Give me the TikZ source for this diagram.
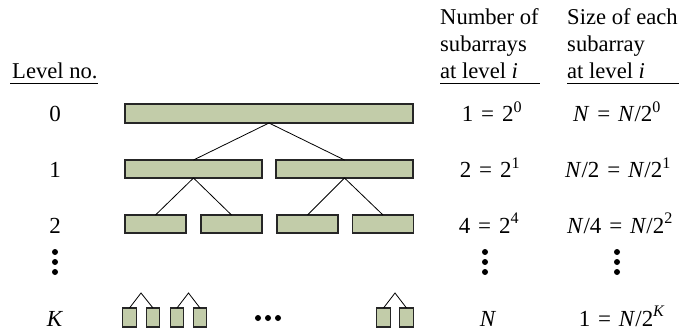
\documentclass[tikz,border=0pt]{standalone}
\usepackage{fontspec}
\setmainfont{Liberation Serif}
\definecolor{barfill}{RGB}{194,204,169}
\newcommand\eqs{\hspace{0.34em}=\hspace{0.34em}}
\begin{document}
\begin{tikzpicture}[
    x=1pt, y=-1pt,
    font=\fontsize{23}{27}\selectfont,
    bar/.style={draw=black!85, fill=barfill, line width=1.1pt,
                inner sep=0pt, outer sep=0pt, minimum height=19},
    leaf/.style={bar, minimum width=13.5},
    link/.style={line width=0.8pt},
    lab/.style={anchor=base, inner sep=0pt},
    head/.style={anchor=base west, align=left, inner sep=0pt,
                 font=\fontsize{22.6}{27}\selectfont},
    vdot/.style={fill=black}
  ]
  \useasboundingbox (0,0) rectangle (679,331);

  % Column headings.
  \node[head] (hlev) at (12,79)  {Level no.};
  \node[head] (hnum) at (440,79) {Number of\\subarrays\\at level \textit{i}};
  \node[head] (hsiz) at (567,79) {Size of each\\subarray\\at level \textit{i}};
  \draw[line width=0.8pt] (10,83) -- (98,83);
  \draw[line width=0.8pt] (440,83) -- (540,83);
  \draw[line width=0.8pt] (567,83) -- (679,83);

  % Level 0 and 1.
  \node[bar, minimum width=288] (a0) at (269,113.5) {};
  \node[bar, minimum width=137, minimum height=18] (a1) at (193.5,169) {};
  \node[bar, minimum width=137, minimum height=18] (a2) at (344.5,169) {};

  % Level 2.
  \node[bar, minimum width=61, minimum height=18] (c1) at (155.5,224) {};
  \node[bar, minimum width=61, minimum height=18] (c2) at (231.5,224) {};
  \node[bar, minimum width=61, minimum height=18] (c3) at (307.5,224) {};
  \node[bar, minimum width=61, minimum height=18] (c4) at (383,224) {};

  \draw[link] (a0.south) -- (a1.north);
  \draw[link] (a0.south) -- (a2.north);
  \draw[link] (a1.south) -- (c1.north);
  \draw[link] (a1.south) -- (c2.north);
  \draw[link] (a2.south) -- (c3.north);
  \draw[link] (a2.south) -- (c4.north);

  % Level K, single elements.
  \node[leaf] (k1) at (129.5,317.5) {};
  \node[leaf] (k2) at (153,317.5) {};
  \node[leaf] (k3) at (177,317.5) {};
  \node[leaf] (k4) at (200,317.5) {};
  \node[leaf] (k5) at (383.5,317.5) {};
  \node[leaf] (k6) at (406.5,317.5) {};
  \coordinate (p1) at (141,293);
  \coordinate (p2) at (188.5,293);
  \coordinate (p3) at (395,293);
  \draw[link] (k1.north) -- (p1) -- (k2.north);
  \draw[link] (k3.north) -- (p2) -- (k4.north);
  \draw[link] (k5.north) -- (p3) -- (k6.north);
  \foreach \x in {258,268,278}
    \fill[vdot] (\x,318) circle (3);

  % Row labels.
  \node[lab] (l0) at (55,122) {0};
  \node[lab] (l1) at (55,178) {1};
  \node[lab] (l2) at (55,233) {2};
  \node[lab] (lk) at (55,326) {\textit{K}};

  \node[lab] (n0) at (492,122) {1\eqs2\textsuperscript{0}};
  \node[lab] (n1) at (490,178) {2\eqs2\textsuperscript{1}};
  \node[lab] (n2) at (489,233) {4\eqs2\textsuperscript{4}};
  \node[lab] (nk) at (488,326) {\textit{N}};

  \node[lab] (s0) at (617,122) {\textit{N}\eqs\textit{N}/2\textsuperscript{0}};
  \node[lab] (s1) at (618,178) {\textit{N}/2\eqs\textit{N}/2\textsuperscript{1}};
  \node[lab] (s2) at (620,233) {\textit{N}/4\eqs\textit{N}/2\textsuperscript{2}};
  \node[lab] (sk) at (622,326) {1\eqs\textit{N}/2\textsuperscript{\textit{K}}};

  % Vertical ellipses.
  \foreach \x in {55,485,617}
    \foreach \y in {252,262,272}
      \fill[vdot] (\x,\y) circle (3);

\end{tikzpicture}
\end{document}
